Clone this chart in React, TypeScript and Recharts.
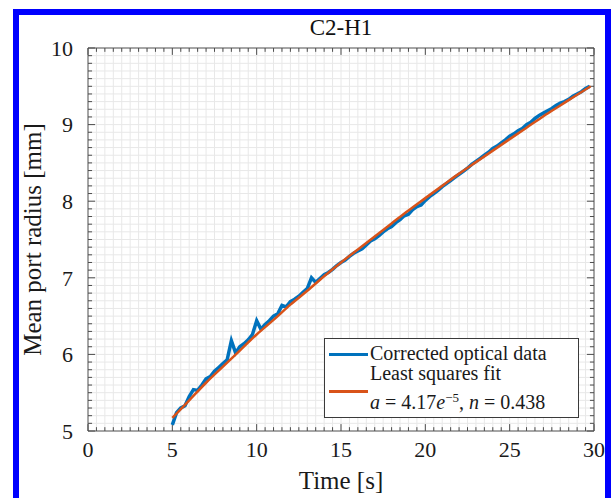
import React from "react";
import { LineChart, Line, XAxis, YAxis, ReferenceLine, Label } from "recharts";

// measured port radius, sampled every 0.25 s from t = 5 s
const dataTime = Array.from({ length: 100 }, (_, i) => 5 + i * 0.25);
const dataRadius = [
  5.08, 5.24, 5.3, 5.33,
  5.45, 5.54, 5.53, 5.6,
  5.68, 5.71, 5.78, 5.83,
  5.88, 5.93, 6.18, 6.02,
  6.1, 6.14, 6.19, 6.26,
  6.44, 6.33, 6.39, 6.44,
  6.5, 6.53, 6.64, 6.62,
  6.69, 6.72, 6.76, 6.81,
  6.86, 7.0, 6.94, 6.99,
  7.04, 7.07, 7.11, 7.16,
  7.2, 7.23, 7.28, 7.32,
  7.35, 7.38, 7.43, 7.48,
  7.51, 7.55, 7.6, 7.64,
  7.67, 7.72, 7.76, 7.81,
  7.83, 7.89, 7.93, 7.95,
  8.01, 8.06, 8.1, 8.14,
  8.19, 8.23, 8.27, 8.31,
  8.35, 8.39, 8.43, 8.48,
  8.52, 8.56, 8.6, 8.64,
  8.69, 8.72, 8.76, 8.8,
  8.85, 8.88, 8.92, 8.95,
  9.0, 9.03, 9.08, 9.12,
  9.15, 9.18, 9.21, 9.25,
  9.28, 9.3, 9.33, 9.37,
  9.4, 9.43, 9.47, 9.5,
];

// least squares fit curve
const fitTime = [5, 6, 7, 8, 9, 10, 11, 12, 13, 14, 15, 16, 17, 18, 19, 20, 21, 22, 23, 24, 25, 26, 27, 28, 29, 29.8];
const fitRadius = [
  5.17, 5.4, 5.63, 5.84, 6.05, 6.26, 6.45, 6.65, 6.83, 7.02, 7.2, 7.37, 7.54,
  7.71, 7.88, 8.04, 8.2, 8.36, 8.51, 8.66, 8.81, 8.96, 9.11, 9.25, 9.39, 9.5,
];

const xTicks = [0, 5, 10, 15, 20, 25, 30];
const yTicks = [5, 6, 7, 8, 9, 10];
const xMinor = Array.from({ length: 61 }, (_, i) => i * 0.5);
const yMinor = Array.from({ length: 51 }, (_, i) => Math.round((5 + i * 0.1) * 10) / 10);

const measured = dataTime.map((t, i) => ({ t, r: dataRadius[i] }));
const fitted = fitTime.map((t, i) => ({ t, r: fitRadius[i] }));

const FONT = '"Liberation Serif", "DejaVu Serif", serif';
const AXIS = "#4d4d4d";
const GRID = "#e8e8e8";
const BLUE = "#0072BD";
const ORANGE = "#D95319";

export default function App() {
  return (
    <div style={{ position: "absolute", left: 0, top: 0, width: 614, height: 498, background: "#fff", overflow: "hidden", fontFamily: FONT }}>
      <div style={{ position: "absolute", left: 13, top: 9, width: 586, height: 500, border: "6px solid #0000ff" }} />
      <div style={{ position: "absolute", left: 88, width: 506, top: 15, textAlign: "center", fontSize: 23, color: "#111" }}>C2-H1</div>
      <LineChart width={614} height={498} margin={{ top: 48, right: 20, bottom: 0, left: 0 }}>
        <XAxis
          dataKey="t"
          type="number"
          domain={[0, 30]}
          ticks={xTicks}
          allowDataOverflow
          tickLine={false}
          tickSize={4}
          tickMargin={6}
          height={67}
          axisLine={{ stroke: AXIS }}
          tick={{ fill: "#1a1a1a", fontSize: 22, fontFamily: FONT }}
        >
          <Label value="Time [s]" position="insideBottom" offset={9} style={{ fill: "#1a1a1a", fontSize: 25, fontFamily: FONT }} />
        </XAxis>
        <YAxis
          dataKey="r"
          type="number"
          domain={[5, 10]}
          ticks={yTicks}
          allowDataOverflow
          tickLine={false}
          tickSize={4}
          tickMargin={11}
          width={88}
          axisLine={{ stroke: AXIS }}
          tick={{ fill: "#1a1a1a", fontSize: 22, fontFamily: FONT }}
        >
          <Label
            content={({ viewBox }: any) => {
              const cy = viewBox.y + viewBox.height / 2;
              return (
                <text x={32} y={cy} transform={`rotate(-90 32 ${cy})`} textAnchor="middle" dominantBaseline="central" fill="#1a1a1a" fontSize={25} fontFamily={FONT}>
                  Mean port radius [mm]
                </text>
              );
            }}
          />
        </YAxis>

        {xMinor.filter((v) => v > 0 && v < 30).map((v) => (
          <ReferenceLine key={"gx" + v} x={v} stroke={GRID} strokeWidth={1} />
        ))}
        {yMinor.filter((v) => v > 5 && v < 10).map((v) => (
          <ReferenceLine key={"gy" + v} y={v} stroke={GRID} strokeWidth={1} />
        ))}

        {xMinor.map((v) => {
          const len = v % 5 === 0 ? 0.09 : 0.05;
          return [
            <ReferenceLine key={"tb" + v} segment={[{ x: v, y: 5 }, { x: v, y: 5 + len }]} stroke={AXIS} strokeWidth={1} />,
            <ReferenceLine key={"tt" + v} segment={[{ x: v, y: 10 }, { x: v, y: 10 - len }]} stroke={AXIS} strokeWidth={1} />,
          ];
        })}
        {yMinor.map((v) => {
          const len = Math.abs(v - Math.round(v)) < 1e-6 ? 0.42 : 0.24;
          return [
            <ReferenceLine key={"tl" + v} segment={[{ x: 0, y: v }, { x: len, y: v }]} stroke={AXIS} strokeWidth={1} />,
            <ReferenceLine key={"tr" + v} segment={[{ x: 30, y: v }, { x: 30 - len, y: v }]} stroke={AXIS} strokeWidth={1} />,
          ];
        })}
        <ReferenceLine y={10} stroke={AXIS} strokeWidth={1} />
        <ReferenceLine x={30} stroke={AXIS} strokeWidth={1} />

        <Line data={measured} dataKey="r" type="linear" stroke={BLUE} strokeWidth={3.5} dot={false} isAnimationActive={false} />
        <Line data={fitted} dataKey="r" type="monotone" stroke={ORANGE} strokeWidth={2.5} dot={false} isAnimationActive={false} />
      </LineChart>

      <div style={{ position: "absolute", left: 324, top: 338, width: 253, height: 78, border: "1px solid #3a3a3a", background: "#fff", fontSize: 20, color: "#1a1a1a", lineHeight: 1 }}>
        <div style={{ position: "absolute", left: 4, top: 14, width: 39, height: 3, background: BLUE }} />
        <div style={{ position: "absolute", left: 45, top: 4, whiteSpace: "nowrap" }}>Corrected optical data</div>
        <div style={{ position: "absolute", left: 4, top: 51, width: 39, height: 3, background: ORANGE }} />
        <div style={{ position: "absolute", left: 45, top: 24, whiteSpace: "nowrap" }}>Least squares fit</div>
        <div style={{ position: "absolute", left: 45, top: 52, whiteSpace: "nowrap" }}>
          <i>a</i> = 4.17<i>e</i>
          <sup style={{ fontSize: 13, verticalAlign: "7px" }}>−5</sup>, <i>n</i> = 0.438
        </div>
      </div>
    </div>
  );
}
